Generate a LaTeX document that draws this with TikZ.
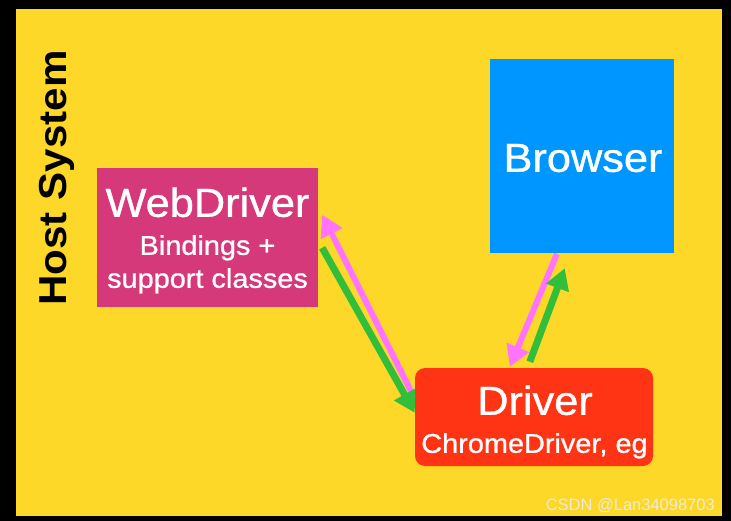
\documentclass[tikz,border=0pt]{standalone}
\usepackage{fontspec}
\setmainfont[FakeStretch=1.08]{Liberation Sans}
\newfontfamily\boxfont[FakeStretch=1.07,FakeBold=0.9]{Liberation Sans}
\newfontfamily\wmfont{Liberation Sans}
\usetikzlibrary{arrows.meta,calc}
\definecolor{bgyellow}{RGB}{253,216,40}
\definecolor{wdcol}{RGB}{213,57,122}
\definecolor{brcol}{RGB}{0,150,255}
\definecolor{drcol}{RGB}{255,52,20}
\definecolor{pinkarr}{RGB}{255,115,255}
\definecolor{greenarr}{RGB}{50,190,58}
\definecolor{wmcol}{RGB}{238,235,222}
\tikzset{
  box/.style={draw=none, inner sep=0pt},
  bigtxt/.style={text=white, anchor=base, inner sep=0pt, font=\boxfont\fontsize{40.5}{44}\selectfont},
  smalltxt/.style={text=white, anchor=base, inner sep=0pt, font=\boxfont\fontsize{27}{30}\selectfont},
  pinkarrow/.style={draw=pinkarr, line width=6pt, -{Triangle[length=21pt,width=23pt]}},
  greenarrow/.style={draw=greenarr, line width=7pt, -{Triangle[length=21pt,width=23pt]}}
}
\begin{document}
\begin{tikzpicture}[x=1pt,y=-1pt]
\useasboundingbox (0,0) rectangle (731,521);
\fill[black] (0,0) rectangle (731,521);
\fill[bgyellow] (16,9) rectangle (722,516);

\node[anchor=base, rotate=90, inner sep=0pt, font=\bfseries\fontsize{39}{40}\selectfont] (host) at (66,178) {Host System};

\node[box, fill=wdcol, minimum width=221pt, minimum height=139pt] (wd) at (207.5,237.5) {};
\node[box, fill=brcol, minimum width=184pt, minimum height=194pt] (br) at (582,156) {};
\node[box, fill=drcol, rounded corners=10pt, minimum width=238pt, minimum height=98pt] (drv) at (534,417) {};

\node[bigtxt] (wdt) at ($(wd.north)+(0,49)$) {WebDriver};
\node[smalltxt] (wdt2) at ($(wd.north)+(0,87)$) {Bindings +};
\node[smalltxt] (wdt3) at ($(wd.north)+(0,120)$) {support classes};
\node[bigtxt] (brt) at ($(br.north)+(1,113)$) {Browser};
\node[bigtxt] (drt) at ($(drv.north)+(1,47)$) {Driver};
\node[smalltxt] (drt2) at ($(drv.north)+(0.5,85)$) {ChromeDriver, eg};

\draw[pinkarrow] ($(drv.north west)+(-3,25)$) -- ($(wd.north east)+(4,47)$);
\draw[greenarrow] ($(wd.north east)+(4,80)$) -- ($(drv.north west)+(0,45)$);
\draw[pinkarrow] ($(br.south west)+(67,1)$) -- ($(drv.north west)+(95,-1)$);
\draw[greenarrow] ($(drv.north west)+(115,-6)$) -- ($(br.south west)+(75,15)$);

\node[anchor=base east, inner sep=0pt, text=wmcol, font=\wmfont\fontsize{16.5}{18}\selectfont] (wm) at (715,510) {CSDN @Lan34098703};
\end{tikzpicture}
\end{document}
